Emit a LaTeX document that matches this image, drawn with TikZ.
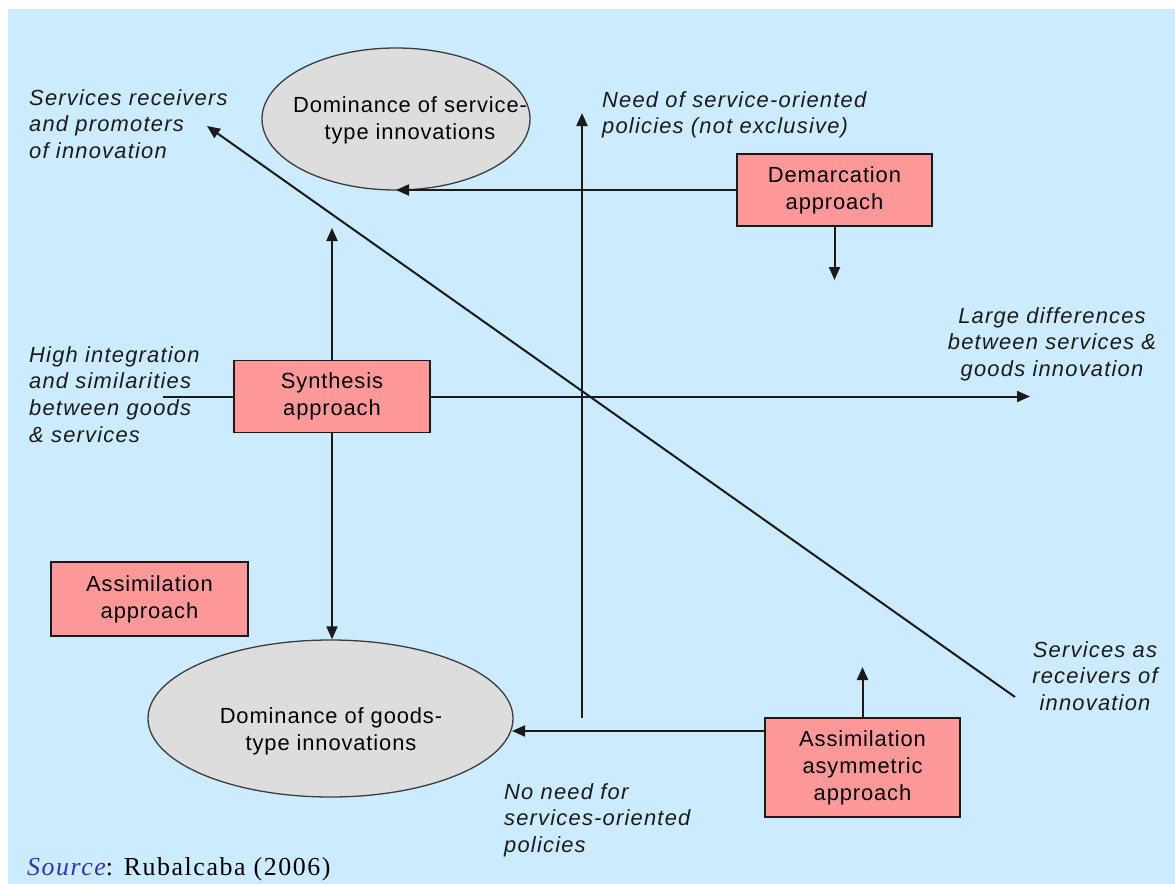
\documentclass[tikz,border=0pt]{standalone}
\usepackage{fontspec}
\setmainfont{Liberation Sans}
\newfontfamily\labelfont[LetterSpace=4]{Liberation Sans}
\newfontfamily\notefont[LetterSpace=5.5]{Liberation Sans}
\newfontfamily\srcfont[LetterSpace=6]{Liberation Serif}
\usetikzlibrary{arrows.meta,shapes.geometric}
\definecolor{panel}{HTML}{CCEBFF}
\definecolor{boxfill}{HTML}{FF9999}
\definecolor{ovalfill}{HTML}{DDDDDD}
\definecolor{ink}{HTML}{1A1A1A}
\definecolor{srcblue}{HTML}{3333AA}
\begin{document}
\begin{tikzpicture}[x=1bp,y=-1bp,
  approach/.style={draw=ink, line width=1.5bp, fill=boxfill, align=center,
    font=\labelfont\fontsize{22}{27}\selectfont, inner sep=0pt},
  oval/.style={ellipse, draw=ink!85, line width=1.3bp, fill=ovalfill, inner sep=0pt},
  ovaltext/.style={align=center, inner sep=0pt, font=\labelfont\fontsize{22}{27}\selectfont},
  note/.style={font=\notefont\itshape\fontsize{22}{27}\selectfont, inner sep=0pt, text=ink},
  link/.style={draw=ink, line width=2bp},
  arr/.style={link, -{Triangle[length=13bp,width=11bp]}},
]
\useasboundingbox (0,0) rectangle (1175,884);
\fill[panel] (8,9) rectangle (1175,884);

% outcome ovals
\node[oval, minimum width=268bp, minimum height=142bp] (svcoval) at (396,119) {};
\node[ovaltext] (svctext) at (410,120) {Dominance of service-\\type innovations};
\node[oval, minimum width=365bp, minimum height=157bp] (goodsoval) at (330.5,718.5) {};
\node[ovaltext] (goodstext) at (331,731) {Dominance of goods-\\type innovations};

% approaches
\node[approach, minimum width=195bp, minimum height=72bp] (demarc) at (834.5,190) {Demarcation\\approach};
\node[approach, minimum width=196bp, minimum height=72bp] (synth) at (332,396.5) {Synthesis\\approach};
\node[approach, minimum width=197bp, minimum height=74bp] (assim) at (149.5,599) {Assimilation\\approach};
\node[approach, minimum width=195bp, minimum height=99bp] (asym) at (862.5,767.5) {Assimilation\\asymmetric\\approach};

% free ends of the connectors
\coordinate (vbottom) at (582,718);
\coordinate (vtop) at (582,113);
\coordinate (hright) at (1030,396.5);
\coordinate (hleft) at (163,396.5);
\coordinate (diagfrom) at (1015,697);
\coordinate (diagto) at (207,126);
\coordinate (demdown) at (834.5,280);
\coordinate (synthup) at (331,228);
\coordinate (asymup) at (862.5,667);
\coordinate (goodsin) at (512,731);

% axes
\draw[arr] (vbottom) -- (vtop);
\draw[arr] (synth.east) -- (hright);
\draw[link] (hleft) -- (synth.west);
\draw[arr] (diagfrom) -- (diagto);

% approach connectors
\draw[arr] (demarc.west) -- (demarc.west -| svcoval.south);
\draw[arr] (demarc.south) -- (demdown);
\draw[arr] (synth.north) -- (synth.north |- synthup);
\draw[arr] (synth.south) -- (synth.south |- goodsoval.north);
\draw[arr] (asym.west |- goodsin) -- (goodsin);
\draw[arr] (asym.north) -- (asym.north |- asymup);

% axis labels
\node[note, anchor=north west, align=left] (recvpromo) at (29,89) {Services receivers\\and promoters\\of innovation};
\node[note, anchor=north west, align=left] (needpol) at (602,91) {Need of service-oriented\\policies (not exclusive)};
\node[note, anchor=north, align=center] (largediff) at (1052,307) {Large differences\\between services \&\\goods innovation};
\node[note, anchor=north west, align=left] (highint) at (29,346) {High integration\\and similarities\\between goods\\\& services};
\node[note, anchor=north, align=center] (recvonly) at (1095,641) {Services as\\receivers of\\innovation};
\node[note, anchor=north west, align=left] (noneed) at (504,783) {No need for\\services-oriented\\policies};

\node[anchor=base west, inner sep=0pt, font=\srcfont\fontsize{26}{30}\selectfont] (source) at (27,875)
  {\textcolor{srcblue}{\itshape Source}: Rubalcaba (2006)};
\end{tikzpicture}
\end{document}
